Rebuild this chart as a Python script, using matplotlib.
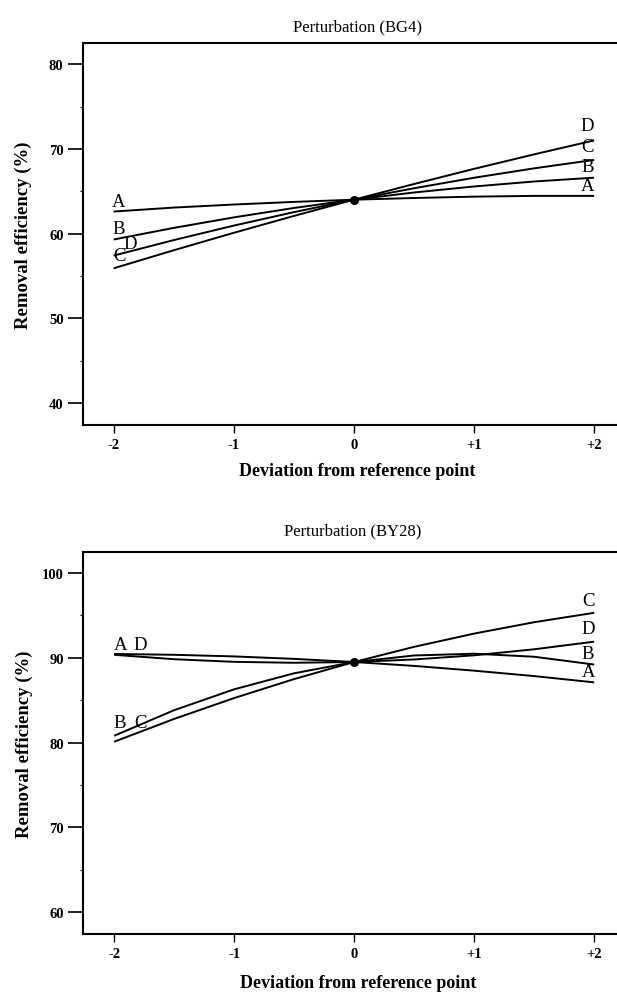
import matplotlib
matplotlib.use("Agg")
from matplotlib import pyplot as plt
import numpy as np

# data
x_dev = [-2, -1.5, -1, -0.5, 0, 0.5, 1, 1.5, 2]
xticks = [-2, -1, 0, 1, 2]
xtick_labels = ["-2", "-1", "0", "+1", "+2"]

# Perturbation (BG4)
bg4_A = [62.6, 63.07, 63.43, 63.74, 64.0, 64.2, 64.36, 64.45, 64.45]
bg4_B = [59.3, 60.67, 61.91, 63.02, 64.0, 64.85, 65.56, 66.15, 66.6]
bg4_C = [57.4, 59.23, 60.94, 62.53, 64.0, 65.35, 66.59, 67.7, 68.7]
bg4_D = [55.9, 58.03, 60.09, 62.08, 64.0, 65.85, 67.64, 69.35, 71.0]
bg4_yticks = [40, 50, 60, 70, 80]

# Perturbation (BY28)
by28_A = [90.45, 90.35, 90.16, 89.87, 89.5, 89.04, 88.48, 87.84, 87.1]
by28_B = [80.8, 83.82, 86.28, 88.17, 89.5, 90.27, 90.48, 90.12, 89.2]
by28_C = [80.1, 82.79, 85.25, 87.49, 89.5, 91.29, 92.85, 94.19, 95.3]
by28_D = [90.35, 89.83, 89.52, 89.41, 89.5, 89.8, 90.29, 91.0, 91.9]
by28_yticks = [60, 70, 80, 90, 100]

SERIF = ["Liberation Serif", "DejaVu Serif"]
plt.rcParams["font.family"] = SERIF

fig = plt.figure(figsize=(6.17, 9.95), dpi=100)


def draw_panel(ax, series, yticks, ylim, left_off, right_off, xlab_y):
    for name, vals in series.items():
        ax.plot(x_dev, vals, color="black", lw=1.4, solid_capstyle="butt")
    # reference point
    mid = x_dev.index(0)
    ax.plot([0], [series["A"][mid]], "o", color="black", ms=5.5)

    # curve labels at both ends
    for name, (dx, dy) in left_off.items():
        ax.text(x_dev[0] + dx, series[name][0] + dy, name, fontsize=13.5,
                ha="center", va="center")
    for name, (dx, dy) in right_off.items():
        ax.text(x_dev[-1] + dx, series[name][-1] + dy, name, fontsize=13.5,
                ha="center", va="center")

    ax.set_xlim(-2.255, 2.19)
    ax.set_ylim(*ylim)
    ax.set_xticks(xticks)
    ax.set_xticklabels(xtick_labels, fontweight="bold", fontsize=10.5)
    ax.set_yticks(yticks)
    ax.set_yticklabels([str(t) for t in yticks], fontweight="bold", fontsize=10.5)
    ax.set_yticks(np.array(yticks[:-1]) + 5, minor=True)
    ax.tick_params(axis="y", which="major", direction="out", length=11, width=1.2, pad=3)
    ax.tick_params(axis="y", which="minor", direction="out", length=2.5, width=0.8)
    ax.tick_params(axis="x", direction="out", length=6, width=1.0, pad=3)
    for s in ax.spines.values():
        s.set_linewidth(1.5)
    ax.spines["right"].set_visible(False)
    ax.set_xlabel("Deviation from reference point", fontweight="bold", fontsize=13)
    ax.set_ylabel("Removal efficiency (%)", fontweight="bold", fontsize=13.5)
    ax.xaxis.set_label_coords(0.514, xlab_y)
    ax.yaxis.set_label_coords(-0.095, 0.5)


# top panel
ax1 = fig.add_axes([0.1345, 0.5714, 0.8655, 0.3844])
draw_panel(ax1,
           {"A": bg4_A, "B": bg4_B, "C": bg4_C, "D": bg4_D},
           bg4_yticks, (37.35, 82.5),
           {"A": (0.04, 1.2), "B": (0.04, 1.3), "C": (0.05, 0.0), "D": (0.14, 2.9)},
           {"A": (-0.055, 1.25), "B": (-0.055, 1.3), "C": (-0.055, 1.55), "D": (-0.055, 1.8)},
           -0.095)
fig.text(0.579, 0.9729, "Perturbation (BG4)", ha="center", va="center", fontsize=12)

# bottom panel
ax2 = fig.add_axes([0.1353, 0.0603, 0.8647, 0.3842])
draw_panel(ax2,
           {"A": by28_A, "B": by28_B, "C": by28_C, "D": by28_D},
           by28_yticks, (57.44, 102.5),
           {"A": (0.05, 1.15), "D": (0.22, 1.25), "B": (0.05, 1.6), "C": (0.22, 2.3)},
           {"A": (-0.05, 1.3), "B": (-0.05, 1.25), "C": (-0.05, 1.4), "D": (-0.05, 1.5)},
           -0.105)
fig.text(0.572, 0.4656, "Perturbation (BY28)", ha="center", va="center", fontsize=12)

fig.savefig("out.png", dpi=100)
